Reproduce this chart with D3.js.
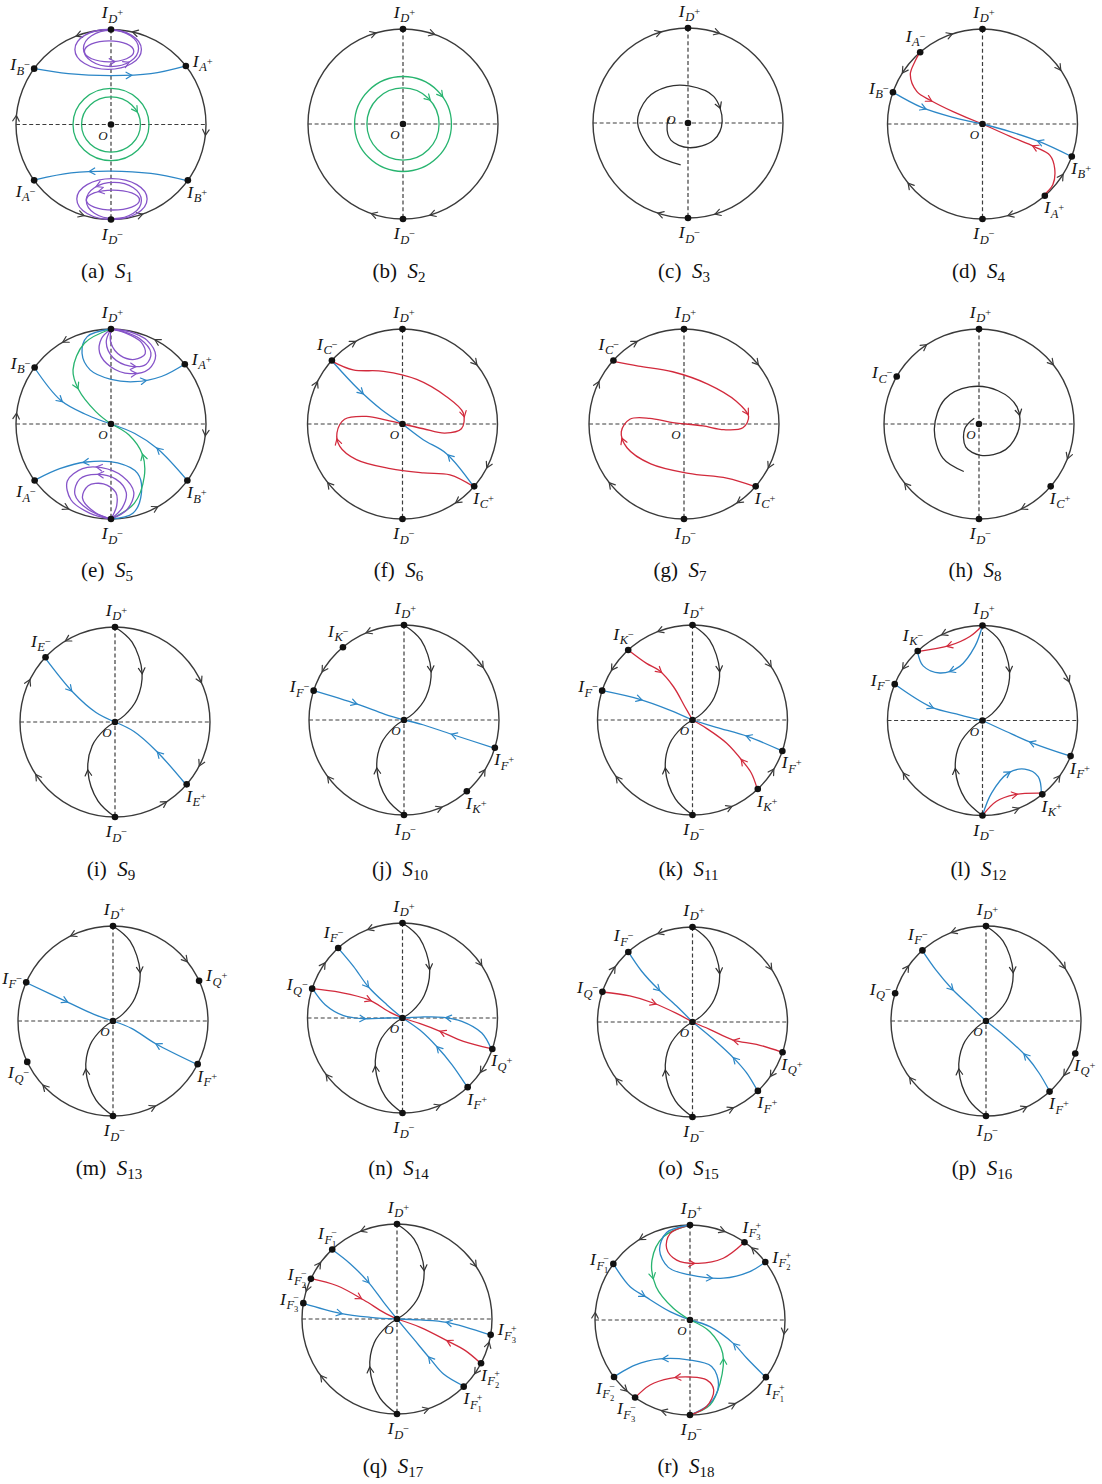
<!DOCTYPE html>
<html>
<head>
<meta charset="utf-8">
<script src="https://cdn.jsdelivr.net/npm/d3@7"></script>
<style>
  body { margin: 0; background: #fff; }
</style>
</head>
<body>
<svg id="fig" width="1102" height="1484"></svg>
<script>
// ---------------------------------------------------------------------------
// Phase portraits on the Poincaré disk, systems S1 ... S18.
// Coordinates are in disk units: the circle at infinity has radius 1,
// x to the right, y upwards.  Angles are in degrees, counter-clockwise from +x.
//   *_eq     : infinite equilibria  [subscript letter, index, sign, angle]
//   *_rim    : flow direction on the circle at infinity [angle, +1 ccw / -1 cw]
//   *_orbits : separatrices / orbits {c: colour key, p: points, a: arrow fractions}
//   *_loops  : closed orbits {c, e: [cx, cy, rx, ry, tilt], a: [[param angle, dir]]}
// ---------------------------------------------------------------------------

// Separatrices from I_D+ and I_D- into the origin (shared by S9 ... S17)
const SPINE_TOP = [[0,1],[0.18,0.84],[0.285,0.52],[0.23,0.24],[0.1,0.07],[0,0]];
const SPINE_BOTTOM = [[0,-1],[-0.18,-0.83],[-0.285,-0.52],[-0.24,-0.25],[-0.1,-0.07],[0,0]];

// S1
const S1_eq = [["D","","+",90],["D","","−",270],["B","","−",144],["A","","+",38],["A","","−",216],["B","","+",-36]];
const S1_rim = [[110,1],[75.5,1],[176,-1],[-5,-1],[252,1],[288,1]];
const S1_orbits = [
  {c:"b", p:[[-0.82,0.59],[-0.45,0.535],[0,0.515],[0.42,0.535],[0.78,0.615]], a:[0.63]},
  {c:"b", p:[[0.80,-0.59],[0.42,-0.515],[0,-0.49],[-0.42,-0.51],[-0.79,-0.58]], a:[0.63]}
];
const S1_loops = [
  {c:"g", e:[0,0,0.40,0.38,0], a:[]},
  {c:"g", e:[0,0,0.31,0.29,0], a:[[32,-1]]},
  {c:"p", e:[-0.03,0.79,0.35,0.21,0], a:[]},
  {c:"p", e:[0.0,0.80,0.29,0.19,0], a:[[-55,1]]},
  {c:"p", e:[-0.02,0.77,0.26,0.11,0], a:[[-82,1]]},
  {c:"p", e:[0.01,-0.785,0.37,0.215,0], a:[]},
  {c:"p", e:[0.03,-0.80,0.29,0.19,0], a:[[124,1]]},
  {c:"p", e:[0.02,-0.795,0.28,0.105,0], a:[[117,1]]}
];

// S2
const S2_eq = [["D","","+",90],["D","","−",270]];
const S2_rim = [[108,-1],[72,-1],[252,-1],[288,-1]];
const S2_orbits = [];
const S2_loops = [
  {c:"g", e:[0,0,0.51,0.50,0], a:[[38,-1]]},
  {c:"g", e:[0,0,0.38,0.38,0], a:[[45,-1]]}
];

// S3
const S3_eq = [["D","","+",90],["D","","−",270]];
const S3_rim = [[108,-1],[72,-1],[253,-1],[288,-1]];
const S3_orbits = [
  {c:"k", p:[[-0.077,-0.44],[-0.34,-0.33],[-0.53,0],[-0.43,0.26],[-0.22,0.38],[0.01,0.39],[0.27,0.28],[0.36,0.02],[0.27,-0.18],[0.01,-0.26],[-0.18,-0.18],[-0.22,-0.02],[-0.19,0.06]], a:[0.62]}
];
const S3_loops = [];

// S4
const S4_eq = [["D","","+",90],["D","","−",270],["A","","−",131],["B","","−",160.5],["B","","+",-20],["A","","+",-49]];
const S4_rim = [[110,-1],[36,-1],[146,1],[220,-1],[-33.5,1],[-73,-1]];
const S4_orbits = [
  {c:"r", p:[[-0.66,0.754],[-0.71,0.66],[-0.76,0.52],[-0.69,0.34],[-0.55,0.25],[-0.31,0.13],[0,0]], a:[0.5]},
  {c:"r", p:[[0.646,-0.747],[0.74,-0.64],[0.76,-0.47],[0.71,-0.33],[0.55,-0.24],[0.29,-0.13],[0,0]], a:[0.52]},
  {c:"b", p:[[-0.94,0.333],[-0.64,0.175],[-0.31,0.07],[0,0]], a:[0.36]},
  {c:"b", p:[[0.926,-0.337],[0.60,-0.186],[0.29,-0.08],[0,0]], a:[0.36]}
];
const S4_loops = [];

// S5
const S5_eq = [["D","","+",90],["D","","−",270],["B","","−",143.5],["A","","+",39],["A","","−",216.5],["B","","+",-36.5]];
const S5_rim = [[119,1],[61,1],[175,-1],[-5.6,-1],[242,1],[298,1]];
const S5_orbits = [
  {c:"b", p:[[-0.81,0.60],[-0.53,0.25],[-0.25,0.095],[0,0]], a:[0.43]},
  {c:"b", p:[[0.80,-0.59],[0.49,-0.26],[0.25,-0.10],[0,0]], a:[0.43]},
  {c:"b", p:[[0,1],[-0.25,0.92],[-0.305,0.744],[-0.22,0.57],[0,0.47],[0.245,0.445],[0.53,0.50],[0.79,0.64]], a:[0.72]},
  {c:"b", p:[[0,-1],[0.23,-0.94],[0.32,-0.73],[0.28,-0.52],[0.07,-0.41],[-0.26,-0.40],[-0.54,-0.47],[-0.78,-0.58]], a:[0.7]},
  {c:"g", p:[[0,1],[-0.28,0.85],[-0.40,0.57],[-0.34,0.36],[-0.16,0.13],[0,0]], a:[0.6]},
  {c:"g", p:[[0,-1],[0.245,-0.835],[0.35,-0.555],[0.333,-0.326],[0.19,-0.116],[0,0]], a:[0.62]},
  // homoclinic loops at I_D+
  {c:"p", p:[[0,1],[-0.1,0.9],[-0.12,0.75],[0.0,0.6],[0.2,0.53],[0.4,0.58],[0.47,0.72],[0.38,0.88],[0.2,0.97],[0,1]], a:[0.45]},
  {c:"p", p:[[0,1],[-0.05,0.86],[0.02,0.7],[0.2,0.61],[0.37,0.63],[0.42,0.75],[0.3,0.9],[0.1,0.98],[0,1]], a:[0.42]},
  {c:"p", p:[[0,1],[0.0,0.85],[0.1,0.72],[0.25,0.68],[0.36,0.74],[0.32,0.86],[0.15,0.96],[0,1]], a:[]},
  // homoclinic loops at I_D-
  {c:"p", p:[[0,-1],[0.17,-0.9],[0.24,-0.72],[0.12,-0.55],[-0.1,-0.46],[-0.3,-0.47],[-0.46,-0.6],[-0.42,-0.8],[-0.22,-0.94],[0,-1]], a:[0.45]},
  {c:"p", p:[[0,-1],[0.12,-0.88],[0.16,-0.72],[0.05,-0.58],[-0.15,-0.53],[-0.33,-0.58],[-0.38,-0.74],[-0.24,-0.9],[0,-1]], a:[0.44]},
  {c:"p", p:[[0,-1],[0.06,-0.86],[0.05,-0.72],[-0.08,-0.63],[-0.24,-0.65],[-0.3,-0.78],[-0.17,-0.93],[0,-1]], a:[]}
];
const S5_loops = [];

// S6
const S6_eq = [["D","","+",90],["D","","−",270],["C","","−",138],["C","","+",-41]];
const S6_rim = [[121,-1],[155,-1],[40,-1],[-26,-1],[-54.5,-1],[219.6,-1]];
const S6_orbits = [
  {c:"b", p:[[-0.74,0.66],[-0.467,0.368],[-0.22,0.15],[0,0]], a:[0.45]},
  {c:"b", p:[[0.75,-0.66],[0.463,-0.312],[0.218,-0.165],[0,0]], a:[0.4]},
  {c:"r", p:[[-0.74,0.66],[-0.52,0.57],[-0.20,0.555],[0.15,0.47],[0.46,0.29],[0.64,0.116],[0.62,-0.05],[0.445,-0.095],[0.22,-0.05],[0,0]], a:[0.66]},
  {c:"r", p:[[0.75,-0.66],[0.50,-0.535],[0.22,-0.515],[-0.13,-0.47],[-0.485,-0.375],[-0.66,-0.235],[-0.69,-0.095],[-0.61,0.05],[-0.38,0.08],[-0.17,0.04],[0,0]], a:[0.64]}
];
const S6_loops = [];

// S7
const S7_eq = [["D","","+",90],["D","","−",270],["C","","−",138],["C","","+",-41]];
const S7_rim = [[121,-1],[155,-1],[40,-1],[-26,-1],[-54.5,-1],[219.6,-1]];
const S7_orbits = [
  {c:"r", p:[[-0.74,0.66],[-0.48,0.61],[-0.12,0.55],[0.25,0.42],[0.55,0.24],[0.68,0.08],[0.62,-0.04],[0.42,-0.06],[0.2,-0.02],[0.02,0]], a:[0.66]},
  {c:"r", p:[[0.75,-0.66],[0.45,-0.57],[0.05,-0.52],[-0.35,-0.42],[-0.6,-0.25],[-0.66,-0.08],[-0.57,0.05],[-0.36,0.06],[-0.15,0.02],[0.02,0]], a:[0.64]}
];
const S7_loops = [];

// S8
const S8_eq = [["D","","+",90],["D","","−",270],["C","","−",150],["C","","+",-41]];
const S8_rim = [[125,-1],[40,-1],[-20,-1],[-62,-1],[220,-1]];
const S8_orbits = [
  {c:"k", p:[[-0.16,-0.5],[-0.38,-0.36],[-0.47,-0.05],[-0.36,0.26],[-0.1,0.39],[0.2,0.35],[0.4,0.18],[0.42,-0.05],[0.28,-0.27],[0.02,-0.33],[-0.14,-0.24],[-0.15,-0.05],[-0.05,0.06]], a:[0.6]}
];
const S8_loops = [];

// S9
const S9_eq = [["D","","+",90],["D","","−",270],["E","","−",137],["E","","+",-41]];
const S9_rim = [[120,1],[155,-1],[215,-1],[26,-1],[-26,-1],[-58.5,1]];
const S9_orbits = [
  {c:"k", p:SPINE_TOP, a:[0.47]},
  {c:"k", p:SPINE_BOTTOM, a:[0.47]},
  {c:"b", p:[[-0.74,0.68],[-0.44,0.31],[-0.2,0.1],[0,0]], a:[0.42]},
  {c:"b", p:[[0.74,-0.65],[0.44,-0.31],[0.2,-0.1],[0,0]], a:[0.42]}
];
const S9_loops = [];

// S10
const S10_eq = [["D","","+",90],["D","","−",270],["K","","−",130],["F","","−",162],["F","","+",-17],["K","","+",-48.6]];
const S10_rim = [[112,1],[148,1],[218,-1],[35,-1],[-33,1],[-68,1]];
const S10_orbits = [
  {c:"k", p:SPINE_TOP, a:[0.47]},
  {c:"k", p:SPINE_BOTTOM, a:[0.47]},
  {c:"b", p:[[-0.95,0.31],[-0.5,0.17],[-0.2,0.06],[0,0]], a:[0.45]},
  {c:"b", p:[[0.95,-0.295],[0.5,-0.15],[0.2,-0.05],[0,0]], a:[0.45]}
];
const S10_loops = [];

// S11
const S11_eq = [["D","","+",90],["D","","−",270],["K","","−",132.6],["F","","−",162],["F","","+",-19],["K","","+",-46.6]];
const S11_rim = [[110,1],[147,1],[218,-1],[35.6,-1],[-32.6,1],[-67,1]];
const S11_orbits = [
  {c:"k", p:SPINE_TOP, a:[0.47]},
  {c:"k", p:SPINE_BOTTOM, a:[0.47]},
  {c:"r", p:[[-0.677,0.737],[-0.484,0.596],[-0.35,0.52],[-0.2,0.35],[-0.08,0.14],[0,0]], a:[0.39]},
  {c:"r", p:[[0.68,-0.72],[0.62,-0.56],[0.533,-0.44],[0.36,-0.245],[0.147,-0.088],[0,0]], a:[0.32]},
  {c:"b", p:[[-0.947,0.309],[-0.554,0.218],[-0.24,0.105],[0,0]], a:[0.4]},
  {c:"b", p:[[0.937,-0.323],[0.586,-0.175],[0.25,-0.077],[0,0]], a:[0.38]}
];
const S11_loops = [];

// S12
const S12_eq = [["D","","+",90],["D","","−",270],["K","","−",133],["F","","−",157.5],["F","","+",-22],["K","","+",-51]];
const S12_rim = [[114,1],[145.7,1],[215,-1],[25.5,-1],[-37,1],[-69,1]];
const S12_orbits = [
  {c:"k", p:SPINE_TOP, a:[0.47]},
  {c:"k", p:SPINE_BOTTOM, a:[0.47]},
  {c:"r", p:[[0,1],[-0.133,0.884],[-0.344,0.79],[-0.684,0.726]], a:[0.55]},
  {c:"b", p:[[0,1],[-0.08,0.78],[-0.24,0.57],[-0.45,0.5],[-0.625,0.575],[-0.684,0.726]], a:[0.55]},
  {c:"r", p:[[0,-1],[0.147,-0.85],[0.34,-0.78],[0.62,-0.765]], a:[0.6]},
  {c:"b", p:[[0,-1],[0.095,-0.765],[0.27,-0.554],[0.445,-0.512],[0.586,-0.59],[0.62,-0.765]], a:[0.5]},
  {c:"b", p:[[-0.93,0.386],[-0.537,0.14],[-0.24,0.06],[0,0]], a:[0.45]},
  {c:"b", p:[[0.91,-0.37],[0.533,-0.24],[0.25,-0.116],[0,0]], a:[0.42]}
];
const S12_loops = [];

// S13
const S13_eq = [["D","","+",90],["D","","−",270],["F","","−",156],["Q","","+",25],["Q","","−",205.5],["F","","+",-27]];
const S13_rim = [[115,1],[224,-1],[40,-1],[-65,1]];
const S13_orbits = [
  {c:"k", p:SPINE_TOP, a:[0.47]},
  {c:"k", p:SPINE_BOTTOM, a:[0.47]},
  {c:"b", p:[[-0.905,0.40],[-0.5,0.21],[-0.2,0.07],[0,0]], a:[0.45]},
  {c:"b", p:[[0.87,-0.45],[0.45,-0.24],[0.2,-0.08],[0,0]], a:[0.45]}
];
const S13_loops = [];

// S14
const S14_eq = [["D","","+",90],["D","","−",270],["F","","−",132.6],["Q","","−",162],["Q","","+",-19],["F","","+",-46.7]];
const S14_rim = [[110,1],[146,-1],[35,-1],[-33.5,-1],[-68,1],[218,-1]];
const S14_orbits = [
  {c:"k", p:SPINE_TOP, a:[0.47]},
  {c:"k", p:SPINE_BOTTOM, a:[0.47]},
  {c:"b", p:[[-0.684,0.744],[-0.516,0.544],[-0.358,0.326],[-0.165,0.14],[0,0]], a:[0.5]},
  {c:"b", p:[[0.677,-0.72],[0.52,-0.49],[0.36,-0.3],[0.186,-0.13],[0,0]], a:[0.5]},
  {c:"r", p:[[-0.947,0.309],[-0.656,0.27],[-0.358,0.193],[-0.13,0.06],[0,0]], a:[0.6]},
  {c:"r", p:[[0.933,-0.323],[0.642,-0.246],[0.396,-0.14],[0.186,-0.06],[0,0]], a:[0.55]},
  {c:"b", p:[[-0.947,0.309],[-0.814,0.14],[-0.62,0.025],[-0.41,-0.007],[-0.165,0],[0,0]], a:[0.61]},
  {c:"b", p:[[0.933,-0.323],[0.835,-0.158],[0.625,-0.035],[0.43,0.007],[0.186,0.01],[0,0]], a:[0.55]}
];
const S14_loops = [];

// S15
const S15_eq = [["D","","+",90],["D","","−",270],["F","","−",132.5],["Q","","−",161.5],["Q","","+",-18.6],["F","","+",-46.5]];
const S15_rim = [[110,1],[146,-1],[35,-1],[-33.5,-1],[-66,1],[218,-1]];
const S15_orbits = [
  {c:"k", p:SPINE_TOP, a:[0.47]},
  {c:"k", p:SPINE_BOTTOM, a:[0.47]},
  {c:"b", p:[[-0.677,0.74],[-0.537,0.537],[-0.36,0.344],[-0.168,0.168],[0,0]], a:[0.5]},
  {c:"b", p:[[0.68,-0.716],[0.568,-0.533],[0.446,-0.393],[0.218,-0.18],[0,0]], a:[0.4]},
  {c:"r", p:[[-0.947,0.316],[-0.66,0.274],[-0.414,0.2],[-0.168,0.09],[0,0]], a:[0.55]},
  {c:"r", p:[[0.937,-0.316],[0.674,-0.235],[0.428,-0.19],[0.18,-0.077],[0,0]], a:[0.5]}
];
const S15_loops = [];

// S16
const S16_eq = [["D","","+",90],["D","","−",270],["F","","−",132],["Q","","−",163],["Q","","+",-20],["F","","+",-48]];
const S16_rim = [[110,1],[146,-1],[35,-1],[-33.5,-1],[-66,1],[218,-1]];
const S16_orbits = [
  {c:"k", p:SPINE_TOP, a:[0.47]},
  {c:"k", p:SPINE_BOTTOM, a:[0.47]},
  {c:"b", p:[[-0.67,0.74],[-0.53,0.54],[-0.36,0.34],[-0.17,0.16],[0,0]], a:[0.5]},
  {c:"b", p:[[0.67,-0.74],[0.56,-0.55],[0.44,-0.39],[0.21,-0.17],[0,0]], a:[0.45]}
];
const S16_loops = [];

// S17
const S17_eq = [["D","","+",90],["D","","−",270],["F","1","−",133],["F","2","−",155],["F","3","−",170.4],["F","3","+",-9.6],["F","2","+",-27.8],["F","1","+",-45.4]];
const S17_rim = [[111,1],[145,-1],[161.5,1],[35,-1],[-15.6,1],[-33.7,-1],[-72,1],[218,-1]];
const S17_orbits = [
  {c:"k", p:SPINE_TOP, a:[0.47]},
  {c:"k", p:SPINE_BOTTOM, a:[0.47]},
  {c:"b", p:[[-0.69,0.737],[-0.49,0.58],[-0.30,0.386],[-0.14,0.175],[0,0]], a:[0.5]},
  {c:"b", p:[[0.69,-0.70],[0.49,-0.58],[0.35,-0.42],[0.175,-0.21],[0,0]], a:[0.45]},
  {c:"r", p:[[-0.912,0.428],[-0.63,0.35],[-0.35,0.2],[-0.14,0.07],[0,0]], a:[0.55]},
  {c:"r", p:[[0.877,-0.463],[0.72,-0.333],[0.526,-0.228],[0.246,-0.088],[0,0]], a:[0.4]},
  {c:"b", p:[[-0.993,0.168],[-0.596,0.06],[-0.28,0.018],[0,0]], a:[0.4]},
  {c:"b", p:[[0.972,-0.165],[0.526,-0.035],[0.246,-0.01],[0,0]], a:[0.45]}
];
const S17_loops = [];

// S18
const S18_eq = [["D","","+",90],["D","","−",270],["F","1","−",143.8],["F","3","+",55],["F","2","+",37.6],["F","1","+",-37],["F","2","−",216.9],["F","3","−",234.7]];
const S18_rim = [[120.7,1],[177,-1],[48,1],[70,-1],[-7,-1],[-63,1],[254,-1],[227,1]];
const S18_orbits = [
  {c:"b", p:[[-0.807,0.59],[-0.63,0.35],[-0.47,0.246],[-0.21,0.088],[0,0]], a:[0.45]},
  {c:"b", p:[[0.79,-0.596],[0.596,-0.40],[0.456,-0.246],[0.21,-0.07],[0,0]], a:[0.45]},
  {c:"g", p:[[0,1],[-0.28,0.877],[-0.40,0.63],[-0.357,0.35],[-0.175,0.123],[0,0]], a:[0.55]},
  {c:"g", p:[[0,-1],[0.21,-0.895],[0.316,-0.667],[0.344,-0.35],[0.21,-0.123],[0,0]], a:[0.55]},
  {c:"r", p:[[0,1],[-0.21,0.91],[-0.246,0.754],[-0.14,0.63],[0.088,0.596],[0.35,0.65],[0.56,0.807]], a:[0.55]},
  {c:"b", p:[[0,1],[-0.246,0.92],[-0.32,0.737],[-0.228,0.554],[0,0.474],[0.35,0.44],[0.63,0.51],[0.78,0.60]], a:[0.65]},
  {c:"b", p:[[0,-1],[0.21,-0.877],[0.30,-0.684],[0.228,-0.49],[-0.018,-0.42],[-0.316,-0.41],[-0.58,-0.474],[-0.78,-0.586]], a:[0.68]},
  {c:"r", p:[[0,-1],[0.175,-0.91],[0.25,-0.737],[0.175,-0.63],[0,-0.6],[-0.21,-0.614],[-0.42,-0.684],[-0.58,-0.82]], a:[0.62]}
];
const S18_loops = [];

// Panel letters and system numbers
const LETTERS = ["a","b","c","d","e","f","g","h","i","j","k","l","m","n","o","p","q","r"];
const SYSTEMS = [
  [S1_eq,S1_rim,S1_orbits,S1_loops],[S2_eq,S2_rim,S2_orbits,S2_loops],[S3_eq,S3_rim,S3_orbits,S3_loops],
  [S4_eq,S4_rim,S4_orbits,S4_loops],[S5_eq,S5_rim,S5_orbits,S5_loops],[S6_eq,S6_rim,S6_orbits,S6_loops],
  [S7_eq,S7_rim,S7_orbits,S7_loops],[S8_eq,S8_rim,S8_orbits,S8_loops],[S9_eq,S9_rim,S9_orbits,S9_loops],
  [S10_eq,S10_rim,S10_orbits,S10_loops],[S11_eq,S11_rim,S11_orbits,S11_loops],[S12_eq,S12_rim,S12_orbits,S12_loops],
  [S13_eq,S13_rim,S13_orbits,S13_loops],[S14_eq,S14_rim,S14_orbits,S14_loops],[S15_eq,S15_rim,S15_orbits,S15_loops],
  [S16_eq,S16_rim,S16_orbits,S16_loops],[S17_eq,S17_rim,S17_orbits,S17_loops],[S18_eq,S18_rim,S18_orbits,S18_loops]
];

// ---------------------------------------------------------------------------
// Layout (pixels)
// ---------------------------------------------------------------------------
const RADIUS = 95;
const CENTERS = [
  [111,124.5],[403,124],[688,123],[982.5,124],
  [111,424],[402.5,424],[684,424],[979,424],
  [115,722],[404,720],[692.5,720],[982.5,720.5],
  [113,1021],[402.5,1018],[692.5,1022],[986,1021],
  [397,1319],[690,1320]
];
const CAPTION_Y = [278, 577, 876, 1175, 1473];
const NO_ORIGIN_DOT = new Set(["g"]);
const ORIGIN_LABEL_UPPER = new Set(["c"]);

const SERIF = "Liberation Serif, serif";
const INK = {k:"#2f2f2f", b:"#2c87c7", r:"#d22a3c", g:"#27b46f", p:"#8654c9"};
const RIM_INK = "#3a3a3a";

const svg = d3.select("#fig");

function chevron(g, px, py, dx, dy, color) {
  const len = Math.hypot(dx, dy) || 1;
  const ux = dx / len, uy = dy / len;
  const tx = px + ux * 2.5, ty = py + uy * 2.5;
  const L = 6.5, a = 30 * Math.PI / 180;
  const bx = -ux, by = -uy;
  const w1 = [tx + L * (bx * Math.cos(a) - by * Math.sin(a)), ty + L * (bx * Math.sin(a) + by * Math.cos(a))];
  const w2 = [tx + L * (bx * Math.cos(-a) - by * Math.sin(-a)), ty + L * (bx * Math.sin(-a) + by * Math.cos(-a))];
  g.append("path")
    .attr("d", `M${w1[0]},${w1[1]}L${tx},${ty}L${w2[0]},${w2[1]}`)
    .attr("fill", "none").attr("stroke", color).attr("stroke-width", 1.2)
    .attr("stroke-linejoin", "miter").attr("stroke-linecap", "round");
}

function norm(a) { a %= 360; return a < 0 ? a + 360 : a; }

// visual centre of an equilibrium label relative to its dot
function labelOffset(theta, w) {
  const a = norm(theta);
  if (a >= 70 && a <= 110) return [1, -16];
  if (a >= 250 && a <= 290) return [1, 15.5];
  if (a > 110 && a < 140) return [-5, -15];
  if (a >= 140 && a <= 200) return [-(w / 2 + 4), -3];
  if (a > 200 && a < 250) return [-9, 12];
  if (a > 290 && a < 350) return [9, 13];
  if (a > 50 && a < 70) return [7, -14];
  return [w / 2 + 6, -4];
}

function eqLabel(g, px, py, theta, letter, idx, sign) {
  const t = g.append("text").attr("font-family", SERIF).attr("font-style", "italic").attr("fill", "#151515");
  t.append("tspan").attr("font-size", 17.5).text("I");
  t.append("tspan").attr("font-size", 12.5).attr("dy", 4.5).attr("dx", 0.5).text(letter);
  if (idx) {
    t.append("tspan").attr("font-size", 8.5).attr("font-style", "normal").attr("dy", 3).text(idx);
    t.append("tspan").attr("font-size", 10).attr("font-style", "normal").attr("dx", -5).attr("dy", -11).text(sign);
  } else {
    t.append("tspan").attr("font-size", 10.5).attr("font-style", "normal").attr("dy", -6.5).text(sign);
  }
  const bb = t.node().getBBox();
  const [ox, oy] = labelOffset(theta, bb.width);
  const cxT = px + ox, cyT = py + oy;
  t.attr("x", 0).attr("y", 0)
   .attr("transform", `translate(${cxT - (bb.x + bb.width / 2)},${cyT + 4.5})`);
}

function drawPanel(k) {
  const [cx, cy] = CENTERS[k];
  const [eq, rim, orbits, loops] = SYSTEMS[k];
  const letter = LETTERS[k];
  const x = d3.scaleLinear().domain([-1, 1]).range([cx - RADIUS, cx + RADIUS]);
  const y = d3.scaleLinear().domain([-1, 1]).range([cy + RADIUS, cy - RADIUS]);
  const g = svg.append("g").attr("class", "panel-" + letter);

  // dashed axes
  g.append("line").attr("x1", x(-1)).attr("x2", x(1)).attr("y1", y(0)).attr("y2", y(0))
    .attr("stroke", "#3c3c3c").attr("stroke-width", 1.2).attr("stroke-dasharray", "4,2.6");
  g.append("line").attr("x1", x(0)).attr("x2", x(0)).attr("y1", y(1)).attr("y2", y(-1))
    .attr("stroke", "#3c3c3c").attr("stroke-width", 1.2).attr("stroke-dasharray", "4,2.6");

  // circle at infinity
  g.append("circle").attr("cx", x(0)).attr("cy", y(0)).attr("r", x(1) - x(0))
    .attr("fill", "none").attr("stroke", RIM_INK).attr("stroke-width", 1.4);

  // flow on the circle at infinity
  rim.forEach(([ang, dir]) => {
    const t = ang * Math.PI / 180;
    const px = x(Math.cos(t)), py = y(Math.sin(t));
    chevron(g, px, py, -Math.sin(t) * dir, -Math.cos(t) * dir, RIM_INK);
  });

  // closed orbits
  loops.forEach(L => {
    const [ex, ey, rx, ry, tilt] = L.e;
    const col = INK[L.c];
    g.append("ellipse").attr("cx", x(ex)).attr("cy", y(ey))
      .attr("rx", x(rx) - x(0)).attr("ry", x(ry) - x(0))
      .attr("transform", `rotate(${-tilt},${x(ex)},${y(ey)})`)
      .attr("fill", "none").attr("stroke", col).attr("stroke-width", 1.3);
    const r = tilt * Math.PI / 180;
    L.a.forEach(([pa, dir]) => {
      const t = pa * Math.PI / 180;
      const lx = rx * Math.cos(t), ly = ry * Math.sin(t);
      const X = ex + lx * Math.cos(r) - ly * Math.sin(r);
      const Y = ey + lx * Math.sin(r) + ly * Math.cos(r);
      const tx = -rx * Math.sin(t) * dir, ty = ry * Math.cos(t) * dir;
      const dX = tx * Math.cos(r) - ty * Math.sin(r);
      const dY = tx * Math.sin(r) + ty * Math.cos(r);
      chevron(g, x(X), y(Y), dX, -dY, col);
    });
  });

  // orbits and separatrices
  const line = d3.line().x(d => x(d[0])).y(d => y(d[1])).curve(d3.curveCatmullRom.alpha(0.5));
  orbits.forEach(o => {
    const col = INK[o.c];
    const path = g.append("path").attr("d", line(o.p))
      .attr("fill", "none").attr("stroke", col).attr("stroke-width", 1.3);
    const node = path.node();
    const total = node.getTotalLength();
    o.a.forEach(f => {
      const s = f * total;
      const p = node.getPointAtLength(s);
      const p0 = node.getPointAtLength(Math.max(0, s - 1.5));
      const p1 = node.getPointAtLength(Math.min(total, s + 1.5));
      chevron(g, p.x, p.y, p1.x - p0.x, p1.y - p0.y, col);
    });
  });

  // origin
  if (!NO_ORIGIN_DOT.has(letter)) {
    g.append("circle").attr("cx", x(0)).attr("cy", y(0)).attr("r", 3.3).attr("fill", "#111");
  }
  const upper = ORIGIN_LABEL_UPPER.has(letter);
  g.append("text").attr("x", x(0) + (upper ? -17 : -8)).attr("y", y(0) + (upper ? 1 : 15))
    .attr("font-family", SERIF).attr("font-style", "italic").attr("font-size", 13)
    .attr("text-anchor", "middle").attr("fill", "#151515").text("O");

  // infinite equilibria
  eq.forEach(([lt, idx, sign, ang]) => {
    const t = ang * Math.PI / 180;
    const px = x(Math.cos(t)), py = y(Math.sin(t));
    g.append("circle").attr("cx", px).attr("cy", py).attr("r", 3.3).attr("fill", "#111");
    eqLabel(g, px, py, ang, lt, idx, sign);
  });

  // caption
  const cap = g.append("text").attr("x", cx - 4).attr("y", CAPTION_Y[Math.floor(k / 4)])
    .attr("font-family", SERIF).attr("font-size", 21).attr("text-anchor", "middle").attr("fill", "#111");
  cap.append("tspan").text(`(${letter})\u2002`);
  cap.append("tspan").attr("font-style", "italic").text("S");
  cap.append("tspan").attr("font-size", 15).attr("dy", 4).text(String(k + 1));
}

for (let k = 0; k < SYSTEMS.length; k++) drawPanel(k);
</script>
</body>
</html>
